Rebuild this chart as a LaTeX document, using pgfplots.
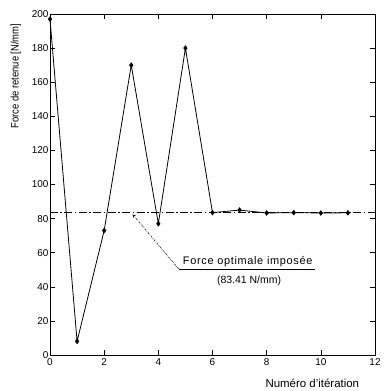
\documentclass[border=0pt]{standalone}
\usepackage{pgfplots}
\pgfplotsset{compat=1.18}
\usepackage{fontspec}
\setmainfont{Liberation Sans}
\begin{document}
\begin{tikzpicture}
\begin{axis}[
  name=a,
  scale only axis, width=325bp, height=341bp,
  xmin=0, xmax=12, ymin=0, ymax=200,
  xtick={0,2,...,12}, ytick={0,20,...,200},
  tick align=inside, tick style={black, line width=0.6pt},
  axis line style={line width=0.8pt},
  major tick length=5pt,
  /pgf/number format/assume math mode=true,
  ticklabel style={font=\fontsize{10}{11}\selectfont},
  yticklabel style={xshift=2pt},
  ylabel={Force de retenue [N/mm]},
  xlabel={Numéro d'itération},
  xlabel style={font=\fontsize{11.5}{13}\selectfont, at={(axis description cs:0.962,0)}, anchor=east, yshift=-28bp},
  ylabel style={font=\fontsize{11}{12}\selectfont\addfontfeature{FakeStretch=0.86}, at={(ticklabel cs:0.818)}, yshift=4pt},
  clip=false,
]
\addplot[black, line width=0.8pt, mark=diamond*, mark size=2.2pt] coordinates {
(0,197) (1,8) (2,73) (3,170) (4,77) (5,180) (6,83.5) (7,85) (8,83.3) (9,83.5) (10,83.3) (11,83.4)
};
\addplot[black, dash pattern=on 8pt off 2.5pt on 1.5pt off 2.5pt, line width=0.7pt] coordinates {(0,83.41) (12,83.41)};
\draw[-stealth, black, dash pattern=on 2pt off 1pt on 0.6pt off 1pt, line width=0.5pt] (axis cs:4.75,50.5) -- (axis cs:3.05,82.5);
\draw[black, line width=0.5pt] (axis cs:4.75,50.5) -- (axis cs:9.8,50.5);
\node[font=\fontsize{11}{12}\selectfont\addfontfeature{LetterSpace=6}, anchor=south, inner sep=1.5pt] at (axis cs:7.3,50.5) {Force optimale imposée};
\node[font=\fontsize{10.5}{12}\selectfont] at (axis cs:7.35,43.5) {(83.41 N/mm)};
\end{axis}
\path (a.south west) ++(-50bp,-36bp);
\path (a.north east) ++(9bp,14bp);
\end{tikzpicture}
\end{document}
